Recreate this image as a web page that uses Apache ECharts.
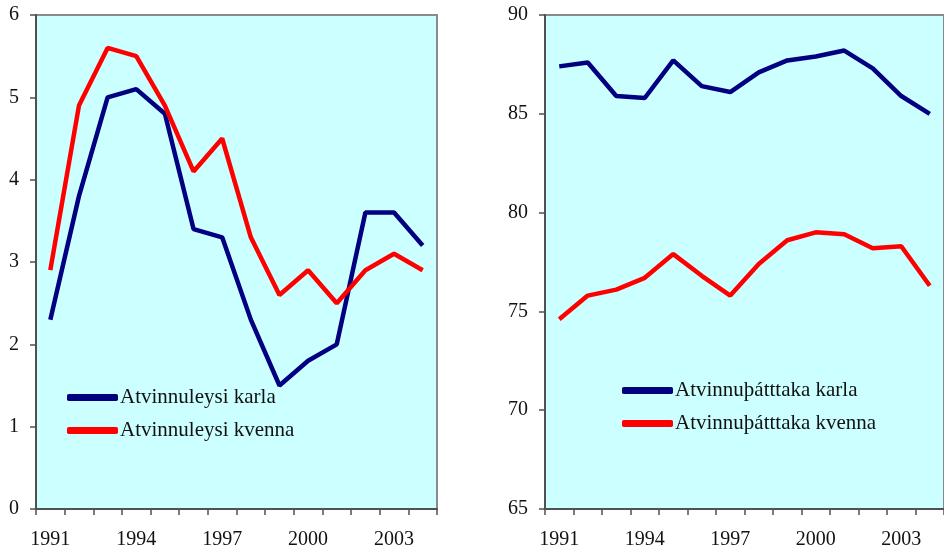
<!DOCTYPE html>
<html>
<head>
<meta charset="utf-8">
<script src="https://cdn.jsdelivr.net/npm/echarts@6/dist/echarts.min.js"></script>
<style>
  html, body { margin: 0; padding: 0; background: #fff; }
  #chart { width: 944px; height: 551px; }
</style>
</head>
<body>
<div id="chart"></div>
<script>
// ár
const years = ['1991', '1992', '1993', '1994', '1995', '1996', '1997',
  '1998', '1999', '2000', '2001', '2002', '2003', '2004'];

// atvinnuleysi, %
const leysiKarla = [2.3, 3.8, 5.0, 5.1, 4.8, 3.4, 3.3, 2.3, 1.5, 1.8, 2.0, 3.6, 3.6, 3.2];
const leysiKvenna = [2.9, 4.9, 5.6, 5.5, 4.9, 4.1, 4.5, 3.3, 2.6, 2.9, 2.5, 2.9, 3.1, 2.9];

// atvinnuþátttaka, %
const thattKarla = [87.4, 87.6, 85.9, 85.8, 87.7, 86.4, 86.1, 87.1, 87.7, 87.9, 88.2, 87.3, 85.9, 85.0];
const thattKvenna = [74.6, 75.8, 76.1, 76.7, 77.9, 76.8, 75.8, 77.4, 78.6, 79.0, 78.9, 78.2, 78.3, 76.3];

const FONT = '"Liberation Serif", "DejaVu Serif", serif';
const NAVY = '#000080';
const RED = '#ff0000';
const AXIS = '#505050';

const chart = echarts.init(document.getElementById('chart'), null, { renderer: 'canvas' });

const grid = left => ({
  left, top: 15, width: left < 100 ? 401 : 399, height: 494,
  show: true, backgroundColor: '#ccffff', borderColor: '#8a8a8a', borderWidth: 2,
  containLabel: false,
});

const xAxis = gridIndex => ({
  type: 'category', gridIndex, data: years, boundaryGap: true,
  axisLine: { lineStyle: { color: AXIS, width: 2 } },
  axisTick: { show: true, interval: 0, length: 6, lineStyle: { color: AXIS, width: 1.5 } },
  axisLabel: { interval: 2, margin: 21, color: '#111', fontFamily: FONT, fontSize: 20 },
  splitLine: { show: false },
});

const yAxis = (gridIndex, min, max, interval) => ({
  type: 'value', gridIndex, min, max, interval,
  axisLine: { show: true, lineStyle: { color: AXIS, width: 2 } },
  axisTick: { show: true, length: 6, lineStyle: { color: AXIS, width: 1.5 } },
  axisLabel: { margin: 17, color: '#111', fontFamily: FONT, fontSize: 20 },
  splitLine: { show: false },
});

const line = (name, data, color, idx) => ({
  name, type: 'line', data, xAxisIndex: idx, yAxisIndex: idx,
  symbol: 'none', lineStyle: { color, width: 4.5 }, itemStyle: { color },
  silent: true, animation: false,
});

const legend = (names, left, top) => ({
  data: names, orient: 'vertical', left, top,
  itemWidth: 51, itemHeight: 7, itemGap: 12,
  textStyle: { fontFamily: FONT, fontSize: 21, color: '#111', padding: [0, 0, 0, -3] },
  icon: 'roundRect',
});

chart.setOption({
  backgroundColor: '#fff',
  animation: false,
  grid: [grid(36), grid(545)],
  xAxis: [xAxis(0), xAxis(1)],
  yAxis: [yAxis(0, 0, 6, 1), yAxis(1, 65, 90, 5)],
  legend: [
    legend(['Atvinnuleysi karla', 'Atvinnuleysi kvenna'], 62, 382),
    legend(['Atvinnuþátttaka karla', 'Atvinnuþátttaka kvenna'], 617, 375),
  ],
  series: [
    line('Atvinnuleysi karla', leysiKarla, NAVY, 0),
    line('Atvinnuleysi kvenna', leysiKvenna, RED, 0),
    line('Atvinnuþátttaka karla', thattKarla, NAVY, 1),
    line('Atvinnuþátttaka kvenna', thattKvenna, RED, 1),
  ],
});
</script>
</body>
</html>
